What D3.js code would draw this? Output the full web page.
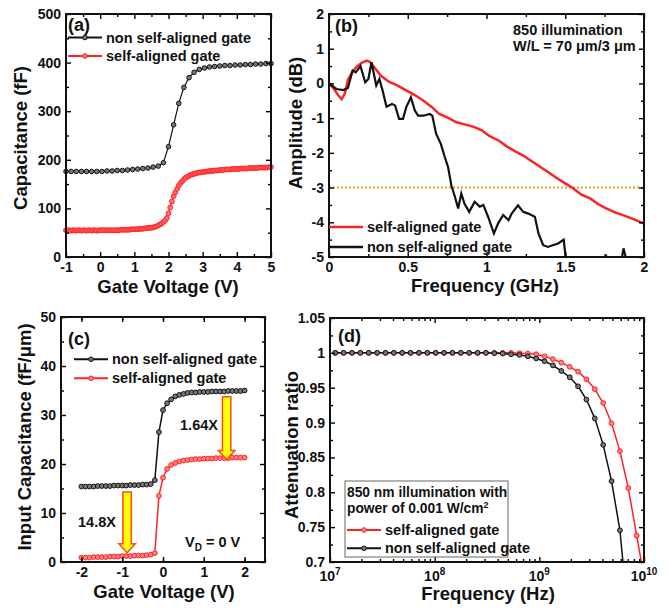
<!DOCTYPE html>
<html>
<head>
<meta charset="utf-8">
<script src="https://cdn.jsdelivr.net/npm/d3@7"></script>
<style>
body { margin: 0; background: #fff; }
svg text { font-family: "Liberation Sans", Arial, sans-serif; font-weight: bold; fill: #111; }
.axis text { font-size: 14px; }
.title { font-size: 18.5px; }
.tag { font-size: 18px; }
.note { font-size: 14.5px; }
</style>
</head>
<body>
<svg id="chart" width="670" height="612"></svg>
<script>

// ---- (a) C-V, 0.15 V steps (non self-aligned) and 0.05 V steps (self-aligned)
var aVoltNon = [-1,-0.85,-0.7,-0.55,-0.4,-0.25,-0.1,0.05,0.2,0.35,0.5,0.65,0.8,0.95,1.1,1.25,1.4,1.55,1.7,1.85,
    2,2.15,2.3,2.45,2.6,2.75,2.9,3.05,3.2,3.35,3.5,3.65,3.8,3.95,4.1,4.25,4.4,4.55,4.7,4.85,5];
var aCapNon = [176,176,176,176,176,176,176,176,177,177,178,178,179,180,181,182,183,185,187,194,
    227,272,316,349,369,380,386,389,391,392,393,394,394,395,395,396,396,397,397,398,398];

var aVoltSelf = [-1,-0.95,-0.9,-0.85,-0.8,-0.75,-0.7,-0.65,-0.6,-0.55,-0.5,-0.45,-0.4,-0.35,-0.3,-0.25,-0.2,-0.15,-0.1,-0.05,
    0,0.05,0.1,0.15,0.2,0.25,0.3,0.35,0.4,0.45,0.5,0.55,0.6,0.65,0.7,0.75,0.8,0.85,0.9,0.95,
    1,1.05,1.1,1.15,1.2,1.25,1.3,1.35,1.4,1.45,1.5,1.55,1.6,1.65,1.7,1.75,1.8,1.85,1.9,1.95,
    2,2.05,2.1,2.15,2.2,2.25,2.3,2.35,2.4,2.45,2.5,2.55,2.6,2.65,2.7,2.75,2.8,2.85,2.9,2.95,
    3,3.05,3.1,3.15,3.2,3.25,3.3,3.35,3.4,3.45,3.5,3.55,3.6,3.65,3.7,3.75,3.8,3.85,3.9,3.95,
    4,4.05,4.1,4.15,4.2,4.25,4.3,4.35,4.4,4.45,4.5,4.55,4.6,4.65,4.7,4.75,4.8,4.85,4.9,4.95,5];
var aCapSelf = [55,55,55,54,55,55,54,55,55,54,55,55,54,55,55,54,55,55,54,55,
    55,55,55,55,55,55,55,55,55,55,55,55,56,56,56,56,56,56,57,57,
    57,57,57,58,58,58,59,59,60,60,60,61,62,63,65,67,69,72,75,80,
    90,102,114,125,133,140,147,152,156,160,163,165,167,169,170,171,172,173,174,174,
    175,175,176,176,177,177,177,178,178,178,179,179,179,180,180,180,180,181,181,181,
    181,181,182,182,182,182,182,183,183,183,183,183,183,184,184,184,184,184,184,185,185];

// ---- (b) frequency response
var bFreqSelf = [0,0.03,0.06,0.08,0.1,0.12,0.15,0.18,0.21,0.24,0.26,0.29,0.33,0.38,0.43,0.49,0.55,0.6,0.65,0.7,
    0.76,0.81,0.86,0.92,0.97,1.02,1.08,1.13,1.18,1.23,1.29,1.34,1.4,1.45,1.5,1.55,1.6,1.66,1.71,1.76,1.82,1.87,1.93,2];
var bAmpSelf = [0,-0.15,-0.35,-0.45,-0.3,0.1,0.35,0.5,0.6,0.66,0.62,0.45,0.22,0.05,-0.05,-0.2,-0.35,-0.5,-0.67,-0.88,
    -1,-1.12,-1.18,-1.25,-1.35,-1.52,-1.65,-1.82,-1.95,-2.07,-2.25,-2.4,-2.58,-2.74,-2.88,-3.02,-3.2,-3.32,-3.48,-3.6,-3.72,-3.8,-3.9,-4.04];

var bFreqNon = [0,0.047,0.09,0.12,0.15,0.17,0.2,0.23,0.25,0.27,0.3,0.32,0.34,0.365,0.4,0.42,0.445,0.47,0.49,0.52,
    0.545,0.566,0.6,0.64,0.656,0.68,0.71,0.735,0.756,0.777,0.8,0.82,0.84,0.86,0.89,0.925,0.957,0.98,1.01,1.047,
    1.074,1.106,1.14,1.16,1.2,1.233,1.265,1.307,1.33,1.36,1.39,1.42,1.455,1.49,1.51,1.55,1.72,1.76,1.8,1.85,1.87,1.9,1.95];
var bAmpNon = [0,-0.16,-0.19,-0.13,0.37,0.32,0.5,0.03,0.13,0.61,-0.06,0.13,-0.2,-0.67,-0.59,-0.64,-1.02,-1.02,-0.69,-0.4,
    -0.78,-0.93,-0.93,-0.88,-0.93,-1.45,-1.74,-2.12,-2.41,-2.94,-3.27,-3.6,-3.17,-3.46,-3.7,-3.41,-3.55,-3.5,-3.84,-4.32,
    -4.03,-3.79,-3.94,-3.75,-3.51,-3.7,-3.75,-3.84,-4.32,-4.66,-4.71,-4.66,-4.61,-4.5,-5.3,-5.8,-5.3,-4.97,-5.3,-5.3,-4.75,-5.3,-5.8];
var bCutoff = -3;

// ---- (c) input capacitance, 0.1 V steps
var cVolt = [-2,-1.9,-1.8,-1.7,-1.6,-1.5,-1.4,-1.3,-1.2,-1.1,-1,-0.9,-0.8,-0.7,-0.6,-0.5,-0.4,-0.3,-0.2,-0.1,
    0,0.1,0.2,0.3,0.4,0.5,0.6,0.7,0.8,0.9,1,1.1,1.2,1.3,1.4,1.5,1.6,1.7,1.8,1.9,2];
var cCapNon = [15.4,15.4,15.4,15.4,15.5,15.5,15.5,15.5,15.6,15.6,15.6,15.6,15.7,15.7,15.7,15.8,15.8,15.9,16.7,26.5,
    31,32.4,33.2,33.8,34.1,34.3,34.5,34.6,34.6,34.7,34.7,34.7,34.8,34.8,34.8,34.8,34.9,34.9,34.9,34.9,35];
var cCapSelf = [0.9,0.9,0.9,1,1,1,1,1.1,1.1,1.1,1.2,1.2,1.2,1.3,1.3,1.3,1.4,1.5,1.8,13.5,
    17.2,19,19.8,20.2,20.5,20.7,20.8,20.9,21,21,21.1,21.1,21.1,21.2,21.2,21.2,21.2,21.3,21.3,21.3,21.3];
var cArrowVolt = [-0.88, 1.56];
var cArrowFrom = [14.3, 33.7];
var cArrowTo = [1.9, 20.9];
var cArrowText = ["14.8X", "1.64X"];

// ---- (d) attenuation ratio, log10 of frequency
var dExp = [7.05,7.13,7.21,7.29,7.37,7.45,7.53,7.61,7.69,7.77,7.85,7.93,8.01,8.09,8.17,8.25,8.33,8.41,8.49,
    8.57,8.65,8.73,8.81,8.89,8.97,9.05,9.13,9.21,9.29,9.37,9.45,9.53,9.61,9.69,9.77,9.85,9.93,10.01];
var dSelf = [1,1,1,1,1,1,1,1,1,1,1,1,1,1,1,1,1,1,1,1,1,1,
    0.9995,0.999,0.998,0.995,0.991,0.986,0.98,0.973,0.962,0.948,0.928,0.899,0.859,0.806,0.738,0.67];
var dNon = [1,1,1,1,1,1,1,1,1,1,1,1,1,1,1,1,1,1,1,
    0.9995,0.999,0.998,0.997,0.995,0.992,0.988,0.982,0.974,0.965,0.952,0.933,0.906,0.868,0.816,0.7455,0.62,0.45,0.3];

var RED = "#ff2222", BLACK = "#111";

var svg = d3.select("#chart");
var blank = function() { return ""; };

function panel(o) {
    var g = svg.append("g").attr("transform", "translate(" + o.left + "," + o.top + ")");
    var w = o.x.range()[1], h = o.y.range()[0];
    var plot = g.append("g");
    if (o.clip) {
        g.append("clipPath").attr("id", o.clip).append("rect").attr("width", w).attr("height", h);
        plot.attr("clip-path", "url(#" + o.clip + ")");
    }
    var sides = [
        [d3.axisBottom, o.x, "translate(0," + h + ")", o.xMajor, o.xMinor, o.xFormat],
        [d3.axisTop, o.x, null, o.xMajor, o.xMinor, null],
        [d3.axisLeft, o.y, null, o.yMajor, o.yMinor, o.yFormat],
        [d3.axisRight, o.y, "translate(" + w + ",0)", o.yMajor, o.yMinor, null]
    ];
    sides.forEach(function(s) {
        var major = g.append("g").attr("class", "axis").attr("transform", s[2])
            .call(s[0](s[1]).tickValues(s[3]).tickSize(-5).tickPadding(5).tickFormat(s[5] || blank));
        major.select(".domain").remove();
        var minor = g.append("g").attr("transform", s[2])
            .call(s[0](s[1]).tickValues(s[4]).tickSize(-3).tickFormat(blank));
        minor.select(".domain").remove();
    });
    g.selectAll(".tick line").attr("stroke-width", 1.4);
    g.append("rect").attr("width", w).attr("height", h)
        .attr("fill", "none").attr("stroke", BLACK).attr("stroke-width", 2);
    return { g: g, plot: plot, x: o.x, y: o.y, w: w, h: h };
}

function series(p, xs, ys, color, fill, lw, r) {
    var pts = xs.map(function(x, i) { return [x, ys[i]]; });
    p.plot.append("path").datum(pts)
        .attr("fill", "none").attr("stroke", color).attr("stroke-width", lw)
        .attr("d", d3.line().x(function(d) { return p.x(d[0]); }).y(function(d) { return p.y(d[1]); }));
    if (!r) return;
    var xd = p.x.domain(), yd = p.y.domain();
    p.plot.selectAll(null)
        .data(pts.filter(function(d) { return d[0] <= xd[1] && d[1] >= Math.min(yd[0], yd[1]); }))
        .enter().append("circle")
        .attr("cx", function(d) { return p.x(d[0]); })
        .attr("cy", function(d) { return p.y(d[1]); })
        .attr("r", r).attr("fill", fill).attr("stroke", color).attr("stroke-width", 1);
}

function legendRow(g, x, y, color, fill, label, marker) {
    g.append("line").attr("x1", x).attr("x2", x + 34).attr("y1", y).attr("y2", y)
        .attr("stroke", color).attr("stroke-width", marker ? 2 : 2.6);
    if (marker) g.append("circle").attr("cx", x + 17).attr("cy", y).attr("r", 2.3)
        .attr("fill", fill).attr("stroke", color);
    g.append("text").attr("class", "note").attr("x", x + 38).attr("y", y + 5).text(label);
}

function title(x, y, label, rotate) {
    svg.append("text").attr("class", "title").attr("text-anchor", "middle")
        .attr("transform", "translate(" + x + "," + y + ")" + (rotate ? " rotate(-90)" : ""))
        .text(label);
}

function halves(a, b, step) {
    var out = [];
    for (var v = a + step / 2; v < b; v += step) out.push(+v.toFixed(4));
    return out;
}

// ---------- (a)
var pa = panel({
    left: 66, top: 14,
    x: d3.scaleLinear().domain([-1, 5]).range([0, 205]),
    y: d3.scaleLinear().domain([0, 500]).range([243, 0]),
    xMajor: [-1, 0, 1, 2, 3, 4, 5], xMinor: halves(-1, 5, 1),
    yMajor: [0, 100, 200, 300, 400, 500], yMinor: halves(0, 500, 100),
    xFormat: String, yFormat: String
});
series(pa, aVoltSelf, aCapSelf, RED, "#ff7070", 1.2, 2.4);
series(pa, aVoltNon, aCapNon, BLACK, "#777", 1.2, 2.3);
pa.g.append("text").attr("class", "tag").attr("x", 2).attr("y", 17).text("(a)");
legendRow(pa.g, 2, 23.5, BLACK, "#777", "non self-aligned gate", true);
legendRow(pa.g, 2, 42, RED, "#ff7070", "self-aligned gate", true);
title(168, 293, "Gate Voltage (V)");
title(27, 138, "Capacitance (fF)", true);

// ---------- (b)
var pb = panel({
    left: 329, top: 14, clip: "clip-b",
    x: d3.scaleLinear().domain([0, 2]).range([0, 315]),
    y: d3.scaleLinear().domain([-5, 2]).range([243, 0]),
    xMajor: [0, 0.5, 1, 1.5, 2], xMinor: halves(0, 2, 0.5),
    yMajor: [-5, -4, -3, -2, -1, 0, 1, 2], yMinor: halves(-5, 2, 1),
    xFormat: String, yFormat: String
});
pb.plot.append("line")
    .attr("x1", 0).attr("x2", pb.w).attr("y1", pb.y(bCutoff)).attr("y2", pb.y(bCutoff))
    .attr("stroke", "#f39a2e").attr("stroke-width", 2).attr("stroke-dasharray", "2,2");
series(pb, bFreqSelf, bAmpSelf, RED, null, 2.5, 0);
series(pb, bFreqNon, bAmpNon, BLACK, null, 2.2, 0);
pb.g.append("text").attr("class", "tag").attr("x", 6).attr("y", 18).text("(b)");
pb.g.append("text").attr("class", "note").attr("x", 184).attr("y", 21).text("850 illumination");
pb.g.append("text").attr("class", "note").attr("x", 184).attr("y", 37).text("W/L = 70 \u03bcm/3 \u03bcm");
legendRow(pb.g, 0, 213, RED, null, "self-aligned gate", false);
legendRow(pb.g, 0, 233, BLACK, null, "non self-aligned gate", false);
title(485, 292, "Frequency (GHz)");
title(302, 123, "Amplitude (dB)", true);

// ---------- (c)
var pc = panel({
    left: 61, top: 317,
    x: d3.scaleLinear().domain([-2.5, 2.5]).range([0, 204]),
    y: d3.scaleLinear().domain([0, 50]).range([245, 0]),
    xMajor: [-2, -1, 0, 1, 2], xMinor: halves(-2.5, 2.5, 1).concat([-2.5, 2.5]),
    yMajor: [0, 10, 20, 30, 40, 50], yMinor: halves(0, 50, 10),
    xFormat: String, yFormat: String
});
series(pc, cVolt, cCapSelf, RED, "#ff8080", 1.5, 2.4);
series(pc, cVolt, cCapNon, BLACK, "#777", 1.5, 2.4);
cArrowVolt.forEach(function(v, i) {
    var x = pc.x(v), y0 = pc.y(cArrowFrom[i]), y1 = pc.y(cArrowTo[i]);
    var sw = 4.2, hw = 8.2, hl = 9;
    var pts = [[x - sw, y0], [x + sw, y0], [x + sw, y1 - hl], [x + hw, y1 - hl], [x, y1], [x - hw, y1 - hl], [x - sw, y1 - hl]];
    pc.g.append("path").attr("d", "M" + pts.join("L") + "Z")
        .attr("fill", "#ffff00").attr("stroke", "#ff4a1c").attr("stroke-width", 1.5);
});
pc.g.append("text").attr("class", "note").attr("text-anchor", "middle").attr("x", 36).attr("y", 210).text(cArrowText[0]);
pc.g.append("text").attr("class", "note").attr("text-anchor", "middle").attr("x", 138).attr("y", 113).text(cArrowText[1]);
var vd = pc.g.append("text").attr("class", "note").attr("x", 124).attr("y", 230);
vd.append("tspan").text("V");
vd.append("tspan").attr("dy", 4).attr("font-size", 10).text("D");
vd.append("tspan").attr("dy", -4).text(" = 0 V");
pc.g.append("text").attr("class", "tag").attr("x", 7).attr("y", 28).text("(c)");
legendRow(pc.g, 13, 42.3, BLACK, "#777", "non self-aligned gate", true);
legendRow(pc.g, 13, 61.3, RED, "#ff8080", "self-aligned gate", true);
title(164, 598, "Gate Voltage (V)");
title(31, 437, "Input Capacitance (fF/\u03bcm)", true);

// ---------- (d)
var dx = d3.scaleLog().domain([1e7, 1e10]).range([0, 314]);
var dMinor = dx.ticks().filter(function(t) { return Math.abs(Math.log10(t) % 1) > 1e-6; });
var pd = panel({
    left: 330, top: 318, clip: "clip-d",
    x: dx,
    y: d3.scaleLinear().domain([0.7, 1.05]).range([244, 0]),
    xMajor: [1e7, 1e8, 1e9, 1e10], xMinor: dMinor,
    yMajor: [0.7, 0.75, 0.8, 0.85, 0.9, 0.95, 1, 1.05], yMinor: halves(0.7, 1.05, 0.05),
    xFormat: null, yFormat: String
});
pd.plot.append("g");
var dFreq = dExp.map(function(e) { return Math.pow(10, e); });
series(pd, dFreq, dSelf, RED, "#ff8080", 1.5, 2.4);
series(pd, dFreq, dNon, BLACK, "#777", 1.5, 2.4);
[7, 8, 9, 10].forEach(function(e) {
    var t = pd.g.append("text").attr("class", "axis").attr("text-anchor", "middle")
        .attr("x", dx(Math.pow(10, e))).attr("y", pd.h + 19).style("font-size", "14px");
    t.append("tspan").text("10");
    t.append("tspan").attr("dy", -6).style("font-size", "10px").text(e);
});
pd.g.append("text").attr("class", "tag").attr("x", 8).attr("y", 24).text("(d)");
pd.g.append("rect").attr("x", 15).attr("y", 163).attr("width", 163).attr("height", 76)
    .attr("fill", "#fff").attr("stroke", "#666").attr("stroke-width", 1);
pd.g.append("text").attr("class", "note").style("font-size", "13.8px").attr("x", 17).attr("y", 179).text("850 nm illumination with");
var pw = pd.g.append("text").attr("class", "note").style("font-size", "13.8px").attr("x", 17).attr("y", 195);
pw.append("tspan").text("power of 0.001 W/cm");
pw.append("tspan").attr("dy", -5).style("font-size", "9px").text("2");
legendRow(pd.g, 17, 212, RED, "#ff8080", "self-aligned gate", true);
legendRow(pd.g, 17, 230.3, BLACK, "#777", "non self-aligned gate", true);
title(488, 600, "Frequency (Hz)");
title(298, 445, "Attenuation ratio", true);

</script>
</body>
</html>
